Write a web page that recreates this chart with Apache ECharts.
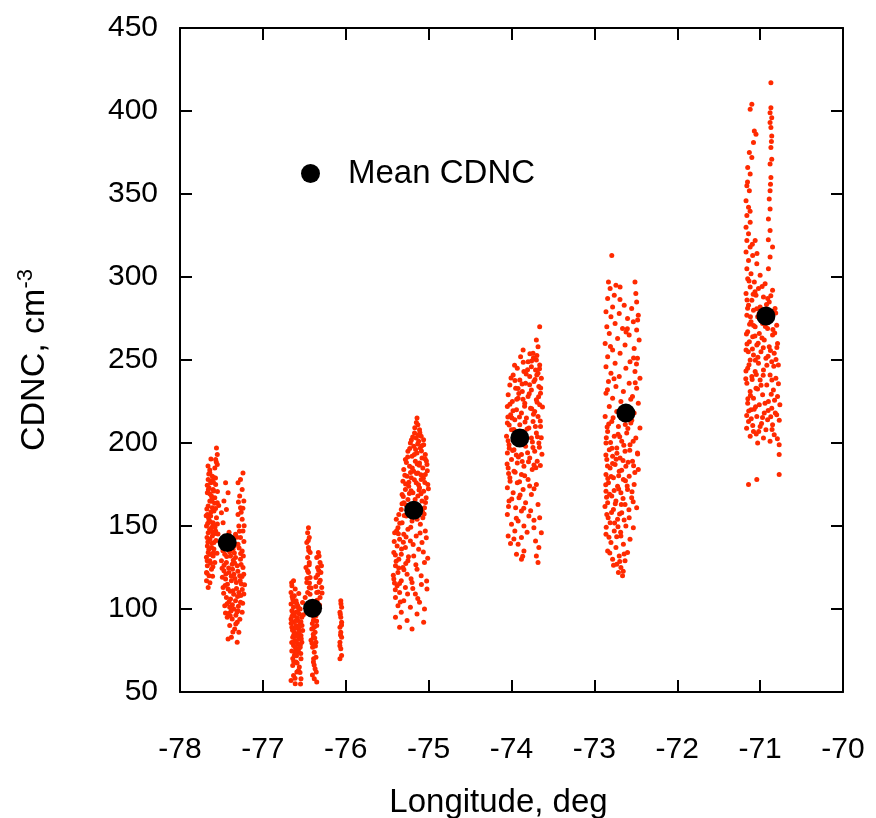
<!DOCTYPE html>
<html>
<head>
    <meta charset="utf-8">
    <title>CDNC vs longitude</title>
    <script src="https://cdn.jsdelivr.net/npm/echarts@6/dist/echarts.min.js"></script>
    <style>
        html, body { margin: 0; padding: 0; background: #fff; }
        #chartmain { width: 876px; height: 818px; }
    </style>
</head>
<body>
<div id="chartmain"></div>
<script type="text/javascript">
    // axis ticks
    var lonTicks = [-78, -77, -76, -75, -74, -73, -72, -71, -70];
    var cdncTicks = [50, 100, 150, 200, 250, 300, 350, 400, 450];

    // mean CDNC per longitude bin
    var meanLon = [-77.43, -76.40, -75.18, -73.90, -72.62, -70.93];
    var meanCdnc = [140, 100.5, 159.5, 203, 218, 276.5];

    // individual samples, [lon, cdnc]
    var bin1 = [
        [-77.56,197],[-77.55,193],[-77.57,190],[-77.55,187],[-77.58,185],
        [-77.64,182],[-77.61,180],[-77.66,178],[-77.59,179],[-77.63,176],[-77.57,175],[-77.65,173],[-77.60,172],
        [-77.67,170],[-77.62,168],[-77.58,167],[-77.64,165],[-77.55,164],[-77.66,162],[-77.61,161],[-77.59,159],
        [-77.67,157],[-77.63,156],[-77.56,155],[-77.65,153],[-77.60,152],[-77.68,150],[-77.62,149],[-77.57,147],
        [-77.66,146],[-77.61,144],[-77.64,142],[-77.59,140],[-77.67,138],[-77.62,137],[-77.66,134],[-77.60,132],
        [-77.64,129],[-77.67,126],[-77.62,124],[-77.65,120],[-77.68,117],[-77.66,113],[-77.68,122],[-77.58,128],
        [-77.45,176],[-77.42,170],[-77.47,165],[-77.44,160],[-77.50,158],[-77.48,152],
        [-77.24,182],[-77.27,178],[-77.30,176],[-77.25,172],[-77.28,168],[-77.23,165],[-77.27,161],[-77.30,157],
        [-77.25,154],[-77.29,150],[-77.24,147],[-77.33,145],[-77.27,143],
        [-77.48,138],[-77.42,137],[-77.36,136],[-77.30,139],[-77.25,135],[-77.46,133],[-77.39,132],[-77.33,131],
        [-77.27,130],[-77.50,129],[-77.44,128],[-77.37,127],[-77.31,126],[-77.24,125],[-77.47,123],[-77.41,122],
        [-77.35,121],[-77.28,120],[-77.45,118],[-77.38,117],[-77.32,116],[-77.26,115],[-77.48,113],[-77.42,112],
        [-77.36,111],[-77.29,110],[-77.23,109],[-77.44,107],[-77.39,106],[-77.33,105],[-77.27,104],[-77.46,102],
        [-77.40,101],[-77.35,100],[-77.30,99],[-77.25,98],
        [-77.43,95],[-77.37,94],[-77.31,92],[-77.40,90],[-77.34,88],[-77.29,86],[-77.38,83],[-77.31,80],[-77.42,82],
        [-77.653,181.4],[-77.618,177.2],[-77.671,174.6],[-77.594,171.1],[-77.637,169.3],[-77.582,163.7],[-77.676,160.2],
        [-77.627,158.5],[-77.655,154.8],[-77.603,150.6],[-77.643,147.9],[-77.588,145.4],[-77.674,143.1],[-77.615,139.6],
        [-77.652,135.8],[-77.598,133.9],[-77.681,131.2],[-77.631,127.7],[-77.566,141.3],[-77.549,151.2],[-77.533,162.4],
        [-77.548,170.8],[-77.572,178.9],[-77.662,186.2],[-77.627,190.4],[-77.613,166.1],[-77.666,151.5],[-77.603,125.4],
        [-77.674,121.5],[-77.639,115.8],
        [-77.482,135.1],[-77.437,131.6],[-77.392,139.2],[-77.344,133.7],[-77.287,136.8],[-77.236,131.9],[-77.468,126.4],
        [-77.413,124.7],[-77.357,129.3],[-77.302,122.8],[-77.251,119.6],[-77.489,119.1],[-77.428,114.9],[-77.381,119.8],
        [-77.318,112.4],[-77.267,108.2],[-77.221,114.6],[-77.473,109.5],[-77.408,104.3],[-77.352,108.9],[-77.296,101.7],
        [-77.244,103.5],[-77.451,97.6],[-77.384,98.8],[-77.326,96.3],[-77.278,93.8],[-77.231,120.9],[-77.226,150.2],
        [-77.262,158.3],[-77.283,146.9],[-77.241,160.7],[-77.295,164.4],[-77.352,142.7],[-77.408,146.2],[-77.466,143.9],
        [-77.327,91.0],[-77.362,86.1],[-77.394,96.0],
        [-77.641,183.7],[-77.597,176.3],[-77.658,171.8],[-77.622,164.9],[-77.571,160.6],[-77.684,156.1],[-77.636,152.7],
        [-77.578,149.3],[-77.612,146.6],[-77.664,140.4],[-77.591,136.2],[-77.638,132.8],[-77.672,129.1],[-77.607,119.7],
        [-77.554,133.6],[-77.542,145.2],[-77.562,188.6],
        [-77.457,136.4],[-77.401,134.3],[-77.343,138.1],[-77.268,133.4],[-77.492,124.6],[-77.447,121.1],[-77.366,123.9],
        [-77.337,118.4],[-77.274,117.1],[-77.456,114.2],[-77.393,110.7],[-77.305,107.6],[-77.249,111.8],[-77.431,103.1],
        [-77.368,102.6],[-77.312,98.2],[-77.416,97.3],[-77.341,127.7],[-77.229,140.7],[-77.313,143.2],[-77.263,126.8]
    ];
    var bin2 = [
        [-76.63,117],[-76.65,114],[-76.61,112],[-76.66,110],[-76.62,108],[-76.64,106],[-76.60,105],[-76.66,103],
        [-76.58,102],[-76.63,101],[-76.55,100],[-76.65,99],[-76.60,98],[-76.56,97],[-76.62,96],[-76.53,95],
        [-76.66,94],[-76.58,93],[-76.63,92],[-76.55,91],[-76.60,90],[-76.65,89],[-76.57,88],[-76.52,87],
        [-76.62,86],[-76.59,85],[-76.54,84],[-76.64,83],[-76.56,82],[-76.61,81],[-76.53,80],[-76.58,79],
        [-76.63,78],[-76.55,77],[-76.60,76],[-76.57,74],[-76.62,72],[-76.54,70],[-76.60,68],[-76.64,66],
        [-76.56,65],[-76.59,62],[-76.63,60],[-76.54,58],[-76.66,57],[-76.61,55],
        [-76.45,149],[-76.46,146],[-76.44,143],[-76.47,140],[-76.45,137],[-76.43,134],[-76.46,131],[-76.44,128],
        [-76.48,125],[-76.45,122],[-76.43,119],[-76.47,116],[-76.44,113],[-76.46,110],[-76.49,107],[-76.43,104],
        [-76.33,134],[-76.35,131],[-76.31,128],[-76.34,125],[-76.30,122],[-76.36,119],[-76.32,116],[-76.29,113],
        [-76.35,110],[-76.31,107],[-76.38,104],[-76.33,101],[-76.40,98],[-76.36,96],[-76.39,93],[-76.35,90],
        [-76.41,88],[-76.37,86],[-76.39,83],[-76.36,80],[-76.40,77],[-76.38,74],[-76.36,71],[-76.39,68],
        [-76.37,64],[-76.38,58],[-76.35,56],
        [-76.06,105],[-76.05,101],[-76.07,98],[-76.06,95],[-76.05,92],[-76.07,89],[-76.06,86],[-76.05,83],
        [-76.07,80],[-76.06,76],[-76.05,72],[-76.07,70],
        [-76.647,107.6],[-76.613,104.2],[-76.571,100.8],[-76.636,97.1],[-76.584,94.6],[-76.541,92.3],[-76.659,91.4],
        [-76.607,88.7],[-76.562,86.2],[-76.628,84.4],[-76.537,82.1],[-76.598,80.6],[-76.652,79.8],[-76.574,75.3],
        [-76.616,73.9],[-76.548,78.4],[-76.639,70.2],[-76.587,67.5],[-76.528,90.1],[-76.511,96.6],[-76.521,103.9],
        [-76.567,109.3],[-76.653,115.8],[-76.594,71.8],[-76.571,62.9],[-76.612,58.3],[-76.546,54.8],
        [-76.452,141.2],[-76.441,126.6],[-76.468,118.4],[-76.431,108.9],[-76.472,101.7],[-76.418,112.6],[-76.322,131.9],
        [-76.338,120.7],[-76.308,117.3],[-76.347,105.2],[-76.316,102.4],[-76.372,99.1],[-76.387,95.2],[-76.352,92.7],
        [-76.403,91.3],[-76.378,89.1],[-76.392,84.8],[-76.366,77.7],[-76.419,81.2],[-76.388,70.1],[-76.356,62.1],
        [-76.402,60.2],[-76.286,109.6],[-76.293,126.1],
        [-76.058,103.2],[-76.066,96.9],[-76.051,90.4],[-76.063,84.3],[-76.071,77.8],
        [-76.631,104.8],[-76.582,98.3],[-76.648,95.7],[-76.603,93.1],[-76.557,89.4],[-76.642,87.2],[-76.589,83.6],
        [-76.624,80.2],[-76.566,76.4],[-76.651,74.7],[-76.609,77.1],[-76.543,73.2],[-76.628,68.3],[-76.552,61.7],
        [-76.592,103.3],
        [-76.447,135.2],[-76.461,123.1],[-76.438,115.6],[-76.327,123.4],[-76.362,113.6],[-76.331,110.3],[-76.354,99.6],
        [-76.397,88.3],[-76.374,82.6],[-76.407,79.4],[-76.381,66.3]
    ];
    var bin3 = [
        [-75.14,215],[-75.13,211],[-75.11,208],[-75.17,206],[-75.09,204],[-75.15,203],[-75.12,201],[-75.22,200],
        [-75.06,199],[-75.18,198],[-75.10,197],[-75.25,195],[-75.14,194],[-75.04,193],[-75.20,192],[-75.08,191],
        [-75.28,190],[-75.16,189],[-75.11,188],[-75.02,187],[-75.23,186],[-75.07,185],[-75.30,184],[-75.18,183],
        [-75.13,182],[-75.04,181],[-75.26,180],[-75.21,179],[-75.09,178],[-75.31,177],[-75.15,176],[-75.01,175],
        [-75.24,174],[-75.11,173],[-75.28,172],[-75.06,171],[-75.19,170],[-75.32,169],[-75.13,168],[-75.03,167],
        [-75.25,166],[-75.08,165],[-75.30,164],[-75.17,163],[-75.22,162],[-75.05,161],[-75.33,160],[-75.12,159],
        [-75.36,157],[-75.27,156],[-75.07,155],[-75.39,154],[-75.20,153],[-75.32,152],[-75.10,151],[-75.37,149],
        [-75.25,148],[-75.04,147],[-75.41,146],[-75.30,145],[-75.15,144],[-75.35,142],[-75.22,141],[-75.08,140],
        [-75.38,138],[-75.28,137],[-75.12,136],[-75.42,134],[-75.33,133],[-75.18,132],[-75.36,130],[-75.25,129],
        [-75.05,128],[-75.40,126],[-75.31,125],[-75.14,124],[-75.37,122],[-75.26,121],[-75.09,120],[-75.42,118],
        [-75.33,117],[-75.20,116],[-75.38,114],[-75.28,113],[-75.02,112],[-75.35,110],[-75.16,109],[-75.40,107],
        [-75.30,105],[-75.11,104],[-75.37,102],[-75.22,101],[-75.05,100],[-75.33,98],[-75.14,97],[-75.40,95],
        [-75.26,93],[-75.06,92],[-75.35,89],[-75.20,88],
        [-75.148,212.3],[-75.106,206.1],[-75.192,203.6],[-75.061,201.9],[-75.132,199.4],[-75.228,196.7],[-75.087,195.2],
        [-75.172,193.1],[-75.041,190.4],[-75.268,188.2],[-75.113,186.6],[-75.197,184.9],[-75.016,183.3],[-75.146,181.7],
        [-75.287,180.6],[-75.064,178.8],[-75.239,176.4],[-75.122,174.9],[-75.003,172.5],[-75.212,171.2],[-75.092,169.4],
        [-75.306,167.8],[-75.163,165.9],[-75.038,164.1],[-75.271,162.6],[-75.183,160.2],[-75.074,158.6],[-75.294,156.3],
        [-75.139,154.1],[-75.348,151.7],
        [-75.216,149.3],[-75.386,147.2],[-75.103,145.8],[-75.272,143.4],[-75.415,140.7],[-75.187,138.9],[-75.327,136.1],
        [-75.064,134.3],[-75.243,131.5],[-75.392,128.8],[-75.154,126.7],[-75.298,123.6],[-75.426,120.4],[-75.212,118.2],
        [-75.351,115.3],[-75.087,114.8],[-75.402,111.6],[-75.254,109.1],[-75.131,106.3],[-75.342,104.2],[-75.024,116.8],
        [-75.011,130.6],[-75.028,142.9],
        [-75.167,209.2],[-75.127,204.7],[-75.208,201.8],[-75.083,198.4],[-75.157,196.1],[-75.253,191.6],[-75.027,189.1],
        [-75.138,187.4],[-75.218,182.3],[-75.093,180.9],[-75.278,175.3],[-75.172,177.8],[-75.046,176.2],[-75.232,169.6],
        [-75.116,171.7],[-75.321,163.4],[-75.148,161.1],[-75.054,157.3],[-75.249,159.4],[-75.365,145.3],[-75.305,140.2],
        [-75.401,132.6],[-75.276,127.4],[-75.361,124.7],[-75.412,115.7],[-75.191,112.3]
    ];
    var bin4 = [
        [-73.66,270],[-73.70,262],[-73.68,258],[-73.86,256],[-73.74,254],[-73.89,252],[-73.70,250],[-73.80,249],
        [-73.66,247],[-73.76,246],[-73.93,245],[-73.71,244],[-73.85,243],[-73.68,242],[-73.98,241],[-73.78,240],
        [-73.64,239],[-73.90,238],[-73.73,237],[-73.83,236],[-74.02,235],[-73.67,234],[-73.95,233],[-73.76,232],
        [-73.87,231],[-73.65,230],[-74.04,229],[-73.80,228],[-73.92,227],[-73.70,226],[-73.99,225],[-73.84,224],
        [-73.66,223],[-74.05,222],[-73.77,221],[-73.94,220],[-73.72,219],[-73.88,218],[-74.01,217],[-73.68,216],
        [-73.82,215],[-73.96,214],[-73.74,213],[-74.05,212],[-73.90,211],[-73.65,210],[-73.79,209],[-74.00,208],
        [-73.86,207],[-73.70,206],[-73.95,205],[-74.06,204],[-73.76,203],[-73.91,201],[-73.67,200],[-74.03,199],
        [-73.83,198],[-73.97,196],[-73.72,195],[-74.05,194],[-73.88,193],[-73.78,191],[-74.00,190],[-73.69,189],
        [-73.93,188],[-73.85,186],[-74.04,185],[-73.75,184],[-73.97,183],[-73.88,181],
        [-74.02,179],[-73.80,178],[-73.93,176],[-73.70,175],[-74.05,173],[-73.86,172],[-73.98,170],[-73.76,169],
        [-73.91,167],[-74.03,165],[-73.83,164],[-73.68,163],[-73.95,161],[-73.88,159],[-74.05,157],[-73.79,156],
        [-73.66,155],[-73.92,153],[-74.00,151],[-73.85,150],[-73.73,149],[-73.96,147],[-73.64,146],[-74.04,144],
        [-73.88,143],[-73.71,141],[-73.92,139],[-73.67,137],[-73.85,135],[-73.94,133],[-73.70,132],[-73.88,130],
        [-73.68,128],
        [-73.694,252.7],[-73.758,249.4],[-73.662,244.8],[-73.823,241.6],[-73.716,238.3],[-73.872,235.5],[-73.648,233.1],
        [-73.786,229.7],[-73.937,226.4],[-73.691,224.6],[-73.842,222.2],[-73.982,219.5],[-73.735,217.3],[-73.904,215.6],
        [-73.653,213.2],[-74.028,210.8],[-73.812,208.4],[-73.953,206.1],[-73.687,203.7],[-74.041,201.4],[-73.862,199.9],
        [-73.741,197.3],[-73.986,195.5],[-73.633,193.2],[-73.917,191.6],[-73.795,188.7],[-74.053,187.3],[-73.706,185.1],
        [-73.956,182.4],[-73.841,180.3],[-74.017,176.9],[-73.728,172.4],[-73.896,168.6],[-74.036,161.8],[-73.769,159.2],
        [-73.942,154.6],[-73.812,146.2],[-74.012,139.4],[-73.865,131.8],[-73.626,221.7],[-73.641,203.1],[-73.652,186.4],
        [-73.778,253.8],[-73.858,248.7],[-73.921,232.8],[-74.006,239.2],[-73.963,246.8],
        [-73.735,251.3],[-73.806,244.2],[-73.695,240.9],[-73.958,237.7],[-73.781,235.1],[-73.912,229.8],[-73.673,227.9],
        [-74.019,223.4],[-73.861,226.3],[-73.756,220.7],[-73.994,215.1],[-73.837,212.6],[-73.712,209.9],[-73.971,208.2],
        [-74.044,215.7],[-73.884,204.3],[-73.748,200.6],[-74.027,196.8],[-73.806,194.2],[-73.664,197.4],[-73.942,192.7],
        [-73.729,186.8],[-74.035,181.6],[-73.871,188.9],[-73.903,176.6],[-73.781,174.1],[-73.997,166.3],[-73.852,160.7],
        [-73.729,153.4],[-73.971,142.2]
    ];
    var bin5 = [
        [-72.79,313],[-72.83,297],[-72.51,297],[-72.74,295],[-72.81,293],[-72.69,294],[-72.50,290],[-72.76,289],
        [-72.84,287],[-72.49,285],[-72.64,283],[-72.78,282],[-72.55,281],[-72.86,279],[-72.70,278],[-72.47,277],
        [-72.80,276],[-72.60,275],[-72.53,273],[-72.75,272],[-72.85,270],[-72.66,269],[-72.49,268],[-72.82,266],
        [-72.58,265],[-72.72,263],[-72.46,262],[-72.87,260],[-72.63,259],[-72.52,257],[-72.78,256],[-72.69,254],
        [-72.84,252],[-72.48,251],[-72.57,249],[-72.75,248],[-72.86,246],[-72.62,245],[-72.51,243],[-72.80,242],
        [-72.70,240],[-72.45,239],[-72.83,237],[-72.58,236],[-72.74,234],[-72.49,233],[-72.65,231],[-72.86,230],
        [-72.54,228],[-72.78,227],[-72.68,225],[-72.47,224],[-72.82,222],[-72.60,221],[-72.73,219],[-72.52,218],
        [-72.87,216],[-72.64,215],[-72.79,213],[-72.56,212],[-72.71,210],[-72.45,209],[-72.84,207],[-72.61,206],
        [-72.76,204],[-72.50,203],[-72.67,201],[-72.86,200],[-72.57,199],[-72.73,197],[-72.82,196],[-72.63,195],
        [-72.48,194],[-72.78,192],[-72.69,191],[-72.85,190],[-72.54,189],[-72.75,187],[-72.62,186],[-72.81,185],
        [-72.47,184],[-72.70,183],[-72.86,181],[-72.58,180],[-72.77,179],[-72.65,178],[-72.83,176],[-72.52,175],
        [-72.72,174],[-72.60,172],[-72.86,171],[-72.68,170],[-72.79,168],[-72.55,167],[-72.74,165],[-72.84,164],
        [-72.63,163],[-72.49,161],[-72.77,160],[-72.67,158],[-72.85,157],[-72.58,155],[-72.72,154],[-72.81,152],
        [-72.62,150],[-72.53,149],[-72.76,147],[-72.86,145],[-72.68,144],[-72.57,142],[-72.80,140],[-72.65,139],
        [-72.74,137],[-72.84,135],[-72.60,134],[-72.70,132],[-72.78,130],[-72.63,129],[-72.73,127],[-72.68,125],
        [-72.71,122],[-72.66,120],
        [-72.827,211.4],[-72.596,208.8],[-72.714,205.3],[-72.856,203.2],[-72.532,201.1],[-72.645,198.6],[-72.788,196.9],
        [-72.478,193.4],[-72.737,190.2],[-72.593,188.4],[-72.842,186.1],[-72.671,183.6],[-72.512,182.2],[-72.798,179.8],
        [-72.625,177.2],[-72.863,174.8],[-72.707,172.3],[-72.546,170.6],[-72.816,169.1],[-72.654,166.5],[-72.748,163.4],
        [-72.872,161.7],[-72.583,159.8],[-72.696,157.2],[-72.834,154.9],[-72.561,226.4],[-72.763,238.7],[-72.492,247.6],
        [-72.806,258.2],[-72.618,266.8],[-72.478,274.1],[-72.691,286.4],[-72.824,143.2],[-72.715,149.6],[-72.641,133.1],
        [-72.769,126.4],[-72.694,128.6],[-72.652,122.7],
        [-72.774,215.2],[-72.549,213.7],[-72.846,209.6],[-72.627,211.1],[-72.694,203.8],[-72.805,200.3],[-72.573,195.7],
        [-72.728,193.9],[-72.861,192.8],[-72.654,189.5],[-72.781,187.7],[-72.527,186.3],[-72.707,180.2],[-72.838,178.6],
        [-72.604,174.1],[-72.761,171.4],[-72.853,167.3],[-72.675,162.9],[-72.532,164.6],[-72.793,158.1],[-72.641,153.6],
        [-72.756,151.8],[-72.857,149.2],[-72.683,146.3],[-72.814,133.8],[-72.731,143.5],[-72.602,268.9],[-72.527,251.2],
        [-72.842,232.1],[-72.507,236.3]
    ];
    var bin6 = [
        [-70.87,417],[-71.10,404],[-71.12,401],[-70.87,402],[-70.88,399],[-70.86,396],[-70.88,393],[-70.87,390],
        [-71.07,388],[-71.05,386],[-70.86,385],[-71.08,381],[-70.87,378],[-71.13,375],[-71.10,372],[-70.86,371],
        [-70.88,368],[-71.15,366],[-71.12,362],[-70.87,360],[-71.16,355],[-71.13,352],[-70.88,352],[-70.89,347],
        [-71.17,346],[-71.14,342],[-70.88,341],[-71.16,337],[-70.90,335],[-71.12,333],[-71.17,330],[-70.88,328],
        [-71.14,326],[-71.16,322],[-71.06,322],[-71.12,318],[-70.85,318],[-71.17,315],[-71.09,313],[-70.88,312],
        [-71.14,310],[-71.04,308],[-71.16,305],[-70.90,305],[-71.11,302],[-71.00,301],
        [-71.15,299],[-71.07,297],[-70.94,296],[-71.12,294],[-71.02,293],[-70.85,292],[-71.17,290],[-71.05,289],
        [-70.96,288],[-71.10,286],[-70.89,285],[-71.14,283],[-71.00,282],[-70.82,281],[-71.08,280],[-70.93,279],
        [-71.16,277],[-71.03,276],[-70.87,275],[-71.11,273],[-70.97,272],[-70.80,271],[-71.06,270],[-70.91,269],
        [-71.15,267],[-71.01,266],[-70.85,265],[-71.09,264],[-70.95,262],[-71.13,261],[-70.79,260],[-71.04,259],
        [-70.89,258],[-71.17,256],[-70.99,255],[-70.83,254],[-71.08,253],[-70.93,251],[-71.12,250],[-70.86,249],
        [-71.02,248],[-70.78,247],[-71.15,245],[-70.96,244],[-71.06,243],[-70.88,241],[-71.10,240],[-70.81,239],
        [-71.00,238],[-71.16,236],[-70.92,235],[-71.05,233],[-70.84,232],[-71.12,231],[-70.97,229],[-70.79,228],
        [-71.08,227],[-70.90,225],[-71.15,224],[-71.01,223],[-70.86,221],[-71.11,220],[-70.95,218],[-70.80,217],
        [-71.04,216],[-70.91,214],[-71.14,213],[-70.85,211],[-71.00,210],[-70.93,208],[-71.08,207],[-70.83,205],
        [-71.12,204],[-70.96,203],[-70.88,201],[-71.03,200],[-70.77,199],
        [-70.77,193],[-70.77,181],[-71.14,175],[-71.04,178],
        [-71.134,297.6],[-70.976,294.3],[-71.062,291.1],[-70.871,288.7],[-71.158,286.2],[-70.923,283.4],[-71.041,280.9],
        [-70.812,278.3],[-71.117,276.1],[-70.951,273.6],[-71.079,270.8],[-70.846,268.4],[-71.165,265.7],[-70.978,263.2],
        [-71.024,260.1],[-70.798,257.6],[-71.143,254.9],[-70.904,252.3],[-71.058,249.8],[-70.835,246.2],[-71.171,243.4],
        [-70.963,240.8],[-71.096,238.2],[-70.779,235.7],[-71.031,232.6],[-70.866,229.4],[-71.148,226.7],[-70.941,223.9],
        [-71.072,220.4],[-70.817,218.1],[-71.107,214.6],[-70.983,211.8],[-70.856,208.2],[-71.047,205.4],[-70.792,202.6],
        [-71.163,208.9],[-71.138,219.3],[-70.769,213.7],[-70.762,223.1],[-71.121,339.6],[-71.152,357.2],[-71.094,319.7],
        [-71.038,314.2],[-70.901,322.4],[-70.875,355.8],[-70.864,381.6],
        [-71.084,289.6],[-70.908,287.1],[-71.151,281.2],[-70.852,279.1],[-71.013,277.9],[-71.127,271.6],[-70.937,270.2],
        [-70.824,266.3],[-71.062,264.4],[-71.158,259.6],[-70.962,257.4],[-70.876,255.7],[-71.093,256.6],[-71.027,251.6],
        [-70.809,250.3],[-71.134,247.2],[-70.919,246.8],[-71.046,241.3],[-70.858,237.9],[-71.173,238.7],[-70.989,234.8],
        [-71.117,228.6],[-70.826,225.7],[-71.055,221.8],[-70.903,219.6],[-71.162,216.5],[-70.971,215.3],[-71.089,210.6],
        [-70.872,215.8],[-71.017,206.9]
    ];

    var dotColor = '#ff2a00';
    var fontName = 'Liberation Sans';

    var samples = [].concat(bin1, bin2, bin3, bin4, bin5, bin6);
    var means = [];
    for (var i = 0; i < meanLon.length; i++) {
        means.push([meanLon[i], meanCdnc[i]]);
    }

    var frameAxis = {
        axisLine: {show: true, onZero: false, lineStyle: {color: '#000', width: 2}},
        axisTick: {show: true, inside: true, length: 12, lineStyle: {color: '#000', width: 2}},
        splitLine: {show: false}
    };

    var option = {
        animation: false,
        backgroundColor: '#fff',
        textStyle: {fontFamily: fontName},
        // fixed plot box, no auto-shrinking to fit the labels
        grid: {left: 180, right: 33, top: 28, bottom: 126, containLabel: false, outerBoundsMode: 'none'},
        legend: {
            data: ['Mean CDNC'],
            left: 296,
            top: 152,
            icon: 'circle',
            itemWidth: 19,
            itemHeight: 19,
            textStyle: {fontSize: 33, color: '#000', fontFamily: fontName, padding: [0, 0, 0, 23]}
        },
        xAxis: [{
            type: 'value',
            min: lonTicks[0],
            max: lonTicks[lonTicks.length - 1],
            interval: 1,
            position: 'bottom',
            axisLine: frameAxis.axisLine,
            axisTick: frameAxis.axisTick,
            splitLine: frameAxis.splitLine,
            axisLabel: {fontSize: 30, color: '#000', margin: 43, fontFamily: fontName},
            name: 'Longitude, deg',
            nameLocation: 'middle',
            nameGap: 94,
            nameTextStyle: {fontSize: 33, color: '#000', fontFamily: fontName, padding: [0, 26, 0, 0]}
        }, {
            type: 'value',
            min: lonTicks[0],
            max: lonTicks[lonTicks.length - 1],
            interval: 1,
            position: 'top',
            axisLine: frameAxis.axisLine,
            axisTick: frameAxis.axisTick,
            splitLine: frameAxis.splitLine,
            axisLabel: {show: false}
        }],
        yAxis: [{
            type: 'value',
            min: cdncTicks[0],
            max: cdncTicks[cdncTicks.length - 1],
            interval: 50,
            position: 'left',
            axisLine: frameAxis.axisLine,
            axisTick: frameAxis.axisTick,
            splitLine: frameAxis.splitLine,
            axisLabel: {fontSize: 30, color: '#000', margin: 22, fontFamily: fontName},
            name: '{a|CDNC, cm}{b|-3}',
            nameLocation: 'middle',
            nameGap: 125,
            nameTextStyle: {
                color: '#000',
                rich: {
                    a: {fontSize: 34, fontFamily: fontName, color: '#000'},
                    b: {fontSize: 22, fontFamily: fontName, color: '#000', verticalAlign: 'top', padding: [0, 0, 18, 0]}
                }
            }
        }, {
            type: 'value',
            min: cdncTicks[0],
            max: cdncTicks[cdncTicks.length - 1],
            interval: 50,
            position: 'right',
            axisLine: frameAxis.axisLine,
            axisTick: frameAxis.axisTick,
            splitLine: frameAxis.splitLine,
            axisLabel: {show: false}
        }],
        series: [{
            name: 'samples',
            type: 'scatter',
            data: samples,
            symbolSize: 5,
            itemStyle: {color: dotColor, opacity: 1},
            z: 2
        }, {
            name: 'Mean CDNC',
            type: 'scatter',
            data: means,
            symbolSize: 19,
            itemStyle: {color: '#000', opacity: 1},
            z: 3
        }]
    };

    var myChart = echarts.init(document.getElementById('chartmain'));
    myChart.setOption(option);
</script>
</body>
</html>
